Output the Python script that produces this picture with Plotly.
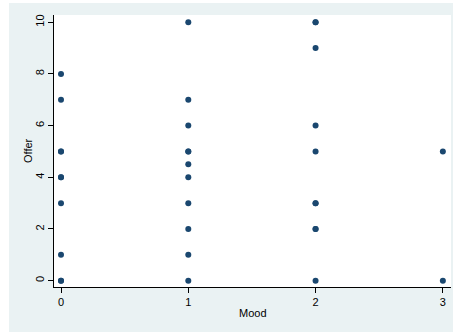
import plotly.graph_objects as go

mood_0 = [8, 7, 5, 5, 4, 4, 3, 1, 0, 0]
mood_1 = [10, 7, 6, 5, 5, 4.5, 4, 3, 2, 1, 0]
mood_2 = [10, 10, 9, 6, 5, 3, 3, 2, 2, 0]
mood_3 = [5, 0]

x_vals = [0] * len(mood_0) + [1] * len(mood_1) + [2] * len(mood_2) + [3] * len(mood_3)
y_vals = mood_0 + mood_1 + mood_2 + mood_3

W, H = 453, 332
L, R, T, B = 54, 2, 15, 45
pw, ph = W - L - R, H - T - B

fig = go.Figure()
fig.add_trace(go.Scatter(
    x=x_vals, y=y_vals, mode="markers",
    marker=dict(color="#1a476f", size=6, line=dict(width=0)),
    showlegend=False, hoverinfo="skip"))

# outer grey graph region
fig.add_shape(type="rect", xref="paper", yref="paper",
              x0=(9 - L) / pw, x1=(W - L) / pw,
              y0=(H - B - H) / ph, y1=(H - B - 3) / ph,
              fillcolor="#eaf2f3", line=dict(width=0), layer="below")
# white plot region
fig.add_shape(type="rect", xref="paper", yref="paper",
              x0=0, x1=1, y0=0, y1=1,
              fillcolor="white", line=dict(width=0), layer="below")

font = dict(family="Liberation Sans, Arial, sans-serif", size=11, color="#000000")

fig.add_annotation(text="Offer", xref="paper", yref="paper",
                   x=(28 - L) / pw, y=0.5, textangle=-90, showarrow=False,
                   xanchor="center", yanchor="middle", font=font)
fig.add_annotation(text="Mood", xref="paper", yref="paper",
                   x=0.5, y=(H - B - 313) / ph, showarrow=False,
                   xanchor="center", yanchor="middle", font=font)

fig.update_layout(
    width=W, height=H,
    margin=dict(l=L, r=R, t=T, b=B, pad=0),
    paper_bgcolor="white", plot_bgcolor="white",
    font=font,
    xaxis=dict(range=[-0.055, 3.064], tickvals=[0, 1, 2, 3], ticks="outside",
               ticklen=5, tickcolor="#000", showline=True, linecolor="#000",
               linewidth=1, showgrid=False, zeroline=False, automargin=False),
    yaxis=dict(range=[-0.245, 10.28], tickvals=[0, 2, 4, 6, 8, 10], ticks="outside",
               ticklen=5, tickcolor="#000", showline=True, linecolor="#000",
               linewidth=1, showgrid=False, zeroline=False, automargin=False,
               tickangle=-90),
)

fig.write_html("out.html")
